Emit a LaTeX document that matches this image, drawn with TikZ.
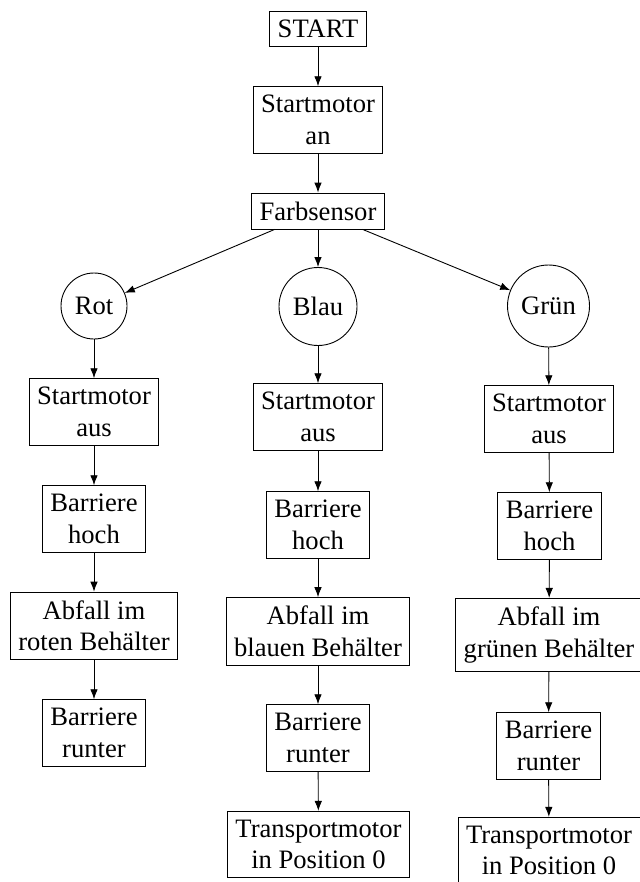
\documentclass[tikz,border=0pt]{standalone}
\usepackage{fontspec}
\setmainfont{Liberation Serif}
\usetikzlibrary{arrows.meta}
\begin{document}
\begin{tikzpicture}[x=1pt,y=-1pt,
  font=\fontsize{26.6}{31.5}\selectfont,
  box/.style={draw, line width=0.9pt, inner xsep=8pt, inner ysep=8.6pt, align=center},
  circ/.style={draw, circle, line width=0.9pt, inner sep=0pt},
  arr/.style={-{Latex[length=10pt,width=7.5pt]}, line width=0.9pt}]
\useasboundingbox (0,0) rectangle (639,882);
% top
\node[box] (start) at (318,29) {START};
\node[box] (sman) at (318,120) {Startmotor\\an};
\node[box] (farb) at (318,211) {Farbsensor};
% colours
\node[circ, minimum size=66pt] (rot) at (94,306) {Rot};
\node[circ, minimum size=78pt] (blau) at (318,306.5) {Blau};
\node[circ, minimum size=82pt] (gruen) at (548.5,306) {Grün};
% left column
\node[box] (sa1) at (94,412) {Startmotor\\aus};
\node[box] (bh1) at (94,519) {Barriere\\hoch};
\node[box] (ab1) at (94,626) {Abfall im\\roten Behälter};
\node[box] (br1) at (94,733) {Barriere\\runter};
% middle column
\node[box] (sa2) at (318,417) {Startmotor\\aus};
\node[box] (bh2) at (318,525) {Barriere\\hoch};
\node[box] (ab2) at (318,631.5) {Abfall im\\blauen Behälter};
\node[box] (br2) at (318,738) {Barriere\\runter};
\node[box] (tm2) at (318.5,844.5) {Transportmotor\\in Position 0};
% right column
\node[box] (sa3) at (549,419) {Startmotor\\aus};
\node[box] (bh3) at (549.5,526) {Barriere\\hoch};
\node[box] (ab3) at (549,635) {Abfall im\\grünen Behälter};
\node[box] (br3) at (548.5,746) {Barriere\\runter};
\node[box] (tm3) at (549,850.5) {Transportmotor\\in Position 0};
% connectors
\draw[arr] (start) -- (sman);
\draw[arr] (sman) -- (farb);
\draw[arr] (farb) -- (rot);
\draw[arr] (farb) -- (blau);
\draw[arr] (farb) -- (gruen);
\draw[arr] (rot) -- (sa1);
\draw[arr] (sa1) -- (bh1);
\draw[arr] (bh1) -- (ab1);
\draw[arr] (ab1) -- (br1);
\draw[arr] (blau) -- (sa2);
\draw[arr] (sa2) -- (bh2);
\draw[arr] (bh2) -- (ab2);
\draw[arr] (ab2) -- (br2);
\draw[arr] (br2) -- (tm2);
\draw[arr] (gruen) -- (sa3);
\draw[arr] (sa3) -- (bh3);
\draw[arr] (bh3) -- (ab3);
\draw[arr] (ab3) -- (br3);
\draw[arr] (br3) -- (tm3);
\end{tikzpicture}
\end{document}
